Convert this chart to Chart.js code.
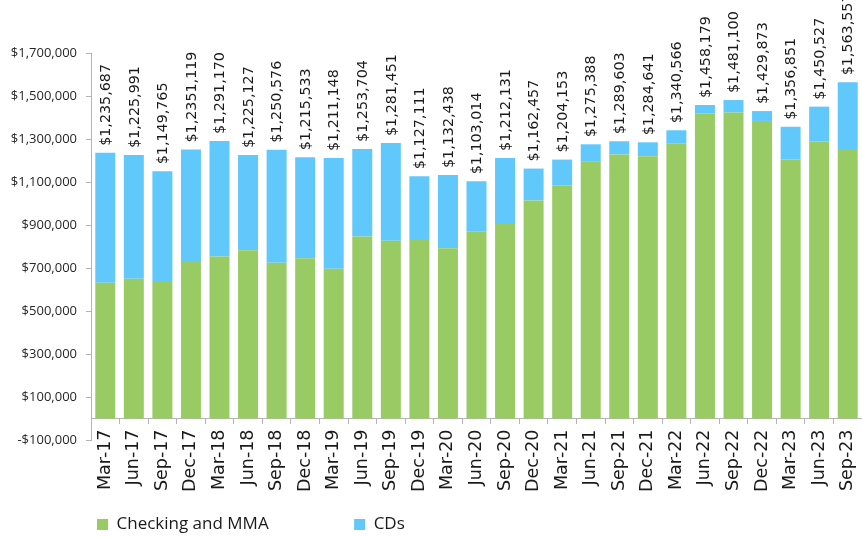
<!DOCTYPE html>
<html>
<head>
<meta charset="utf-8">
<script src="https://cdn.jsdelivr.net/npm/chart.js@4"></script>
<style>
  html, body { margin: 0; padding: 0; background: #fff; }
  #wrap { width: 862px; height: 537px; }
</style>
</head>
<body>
<div id="wrap"><canvas id="depositsChart" width="862" height="537"></canvas></div>
<script>
const categories = ['Mar-17', 'Jun-17', 'Sep-17', 'Dec-17', 'Mar-18', 'Jun-18', 'Sep-18', 'Dec-18', 'Mar-19',
    'Jun-19', 'Sep-19', 'Dec-19', 'Mar-20', 'Jun-20', 'Sep-20', 'Dec-20', 'Mar-21', 'Jun-21', 'Sep-21',
    'Dec-21', 'Mar-22', 'Jun-22', 'Sep-22', 'Dec-22', 'Mar-23', 'Jun-23', 'Sep-23'];
const checkingMMA = [631000, 650000, 640000, 733000, 754000, 782000, 725000, 745000, 697000,
    846000, 827000, 835000, 792000, 871000, 905000, 1014000, 1085000, 1194000, 1228000,
    1220000, 1280000, 1420000, 1423000, 1384000, 1206000, 1290000, 1254000];
const cds = [604687, 575991, 509765, 518119, 537170, 443127, 525576, 470533, 514148,
    407704, 454451, 292111, 340438, 232014, 307131, 148457, 119153, 81388, 61603,
    64641, 60566, 38179, 58100, 45873, 150851, 160527, 309557];
const totalLabels = ['$1,235,687', '$1,225,991', '$1,149,765', '$1,2351,119', '$1,291,170', '$1,225,127',
    '$1,250,576', '$1,215,533', '$1,211,148', '$1,253,704', '$1,281,451', '$1,127,111', '$1,132,438',
    '$1,103,014', '$1,212,131', '$1,162,457', '$1,204,153', '$1,275,388', '$1,289,603', '$1,284,641',
    '$1,340,566', '$1,458,179', '$1,481,100', '$1,429,873', '$1,356,851', '$1,450,527', '$1,563,557'];
const yTicks = [-100000, 100000, 300000, 500000, 700000, 900000, 1100000, 1300000, 1500000, 1700000];

const axisGray = '#b4b4b4';

function money(v) {
    const s = '$' + Math.abs(v).toLocaleString('en-US');
    return v < 0 ? '-' + s : s;
}

// totals written vertically above each stack
const totalsPlugin = {
    id: 'totals',
    afterDatasetsDraw(chart) {
        const ctx = chart.ctx;
        const bars = chart.getDatasetMeta(1).data;
        ctx.save();
        ctx.font = '14.3px "DejaVu Sans"';
        ctx.fillStyle = '#1a1a1a';
        ctx.textAlign = 'left';
        ctx.textBaseline = 'middle';
        bars.forEach((bar, i) => {
            ctx.save();
            ctx.translate(bar.x + 1, bar.y - 7);
            ctx.rotate(-Math.PI / 2);
            ctx.fillText(totalLabels[i], 0, 0);
            ctx.restore();
        });
        ctx.restore();
    }
};

function drawChart() {
    const ctx = document.getElementById('depositsChart').getContext('2d');
    new Chart(ctx, {
        type: 'bar',
        data: {
            labels: categories,
            datasets: [{
                label: 'Checking and MMA' + '\u00a0'.repeat(18),
                data: checkingMMA,
                backgroundColor: '#99cb64',
                borderWidth: 0,
                barPercentage: 0.7,
                categoryPercentage: 1
            }, {
                label: 'CDs',
                data: cds,
                backgroundColor: '#60c8fa',
                borderWidth: 0,
                barPercentage: 0.7,
                categoryPercentage: 1
            }]
        },
        options: {
            responsive: false,
            animation: false,
            layout: { padding: { top: 53, left: 0, right: -3, bottom: -6 } },
            scales: {
                x: {
                    stacked: true,
                    position: { y: 0 },
                    afterFit(scale) { scale.paddingLeft = 0; scale.paddingRight = 0; },
                    grid: { drawOnChartArea: false, tickLength: 5, color: axisGray },
                    border: { color: axisGray },
                    ticks: {
                        minRotation: 90,
                        maxRotation: 90,
                        padding: 6,
                        color: '#1a1a1a',
                        font: { family: 'DejaVu Sans', size: 17.5 }
                    }
                },
                spacer: {
                    type: 'category',
                    labels: categories,
                    position: 'bottom',
                    grid: { display: false },
                    border: { display: false },
                    ticks: { display: false },
                    afterFit(scale) { scale.height = 70; }
                },
                y: {
                    stacked: true,
                    min: -100000,
                    max: 1700000,
                    afterFit(scale) { scale.width = 91; },
                    afterBuildTicks(scale) { scale.ticks = yTicks.map(v => ({ value: v })); },
                    grid: { drawOnChartArea: false, tickLength: 5, color: axisGray },
                    border: { color: axisGray },
                    ticks: {
                        padding: 9,
                        color: '#262626',
                        font: { family: 'Open Sans', size: 13 },
                        callback: v => money(v)
                    }
                }
            },
            plugins: {
                legend: {
                    position: 'bottom',
                    align: 'start',
                    fullSize: false,
                    labels: {
                        boxWidth: 11,
                        boxHeight: 11,
                        padding: 6,
                        color: '#1a1a1a',
                        font: { family: 'Open Sans', size: 17 }
                    }
                },
                tooltip: { enabled: false }
            }
        },
        plugins: [totalsPlugin]
    });
}

document.addEventListener('DOMContentLoaded', () => {
    drawChart();
});
</script>
</body>
</html>
